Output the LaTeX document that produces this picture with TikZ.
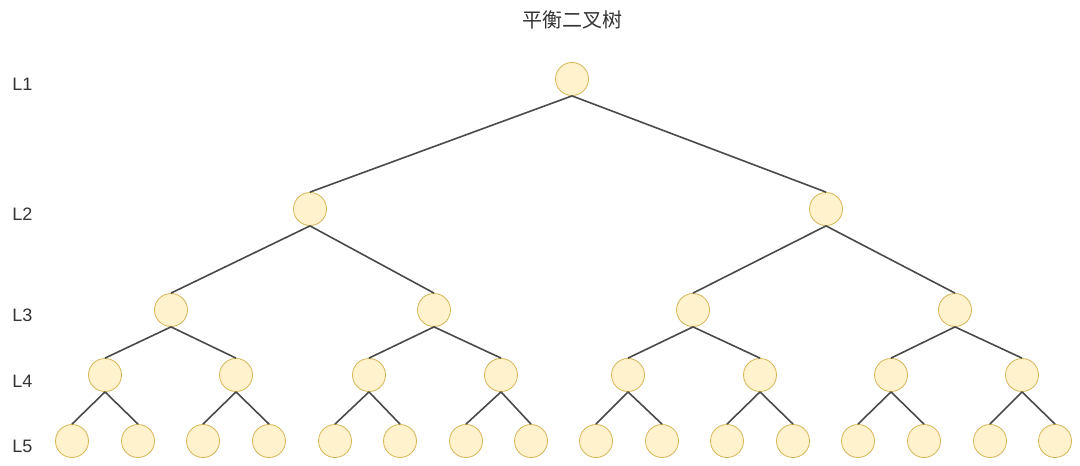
\documentclass[tikz,border=0pt]{standalone}
\usepackage{fontspec}
\setmainfont{Liberation Sans}
\newfontfamily\cjk{Noto Sans CJK SC}
\definecolor{nodefill}{HTML}{FFF2CC}
\definecolor{nodedraw}{HTML}{D6B656}
\definecolor{edgecol}{HTML}{4A4A4A}
\definecolor{textcol}{HTML}{333333}
\begin{document}
\begin{tikzpicture}[x=0.75pt,y=-0.75pt,
  treenode/.style={circle,draw=nodedraw,fill=nodefill,line width=0.6pt,inner sep=0pt,minimum size=24.75pt},
  edge/.style={draw=edgecol,line width=1.2pt},
  lvl/.style={anchor=west,text=textcol,font=\fontsize{13.5pt}{15pt}\selectfont,inner sep=0pt},
  ttl/.style={text=textcol,font=\cjk\fontsize{15pt}{17pt}\selectfont,inner sep=0pt}]
\useasboundingbox[fill=white] (0,0) rectangle (1080,466);
\node[ttl] (title) at (572,20) {平衡二叉树};
\node[lvl] (l1) at (12,84) {L1};
\node[lvl] (l2) at (12,214) {L2};
\node[lvl] (l3) at (12,315) {L3};
\node[lvl] (l4) at (12,381) {L4};
\node[lvl] (l5) at (12,446) {L5};
% level 1
\node[treenode] (n1) at (572,79) {};
% level 2
\foreach \x [count=\k from 2] in {310,826}
  \node[treenode] (n\k) at (\x,209) {};
% level 3
\foreach \x [count=\k from 4] in {171,434,693,955}
  \node[treenode] (n\k) at (\x,310) {};
% level 4
\foreach \x [count=\k from 8] in {105,236,369,501,628,760,891,1022}
  \node[treenode] (n\k) at (\x,375) {};
% level 5
\foreach \x [count=\k from 16] in {72,138,203,269,335,400,466,531,596,662,727,793,858,924,990,1055}
  \node[treenode] (n\k) at (\x,441) {};
% edges
\foreach \i in {2,...,31}{
  \pgfmathtruncatemacro\p{\i/2}
  \draw[edge] (n\p.south) -- (n\i.north);
}
\end{tikzpicture}
\end{document}
